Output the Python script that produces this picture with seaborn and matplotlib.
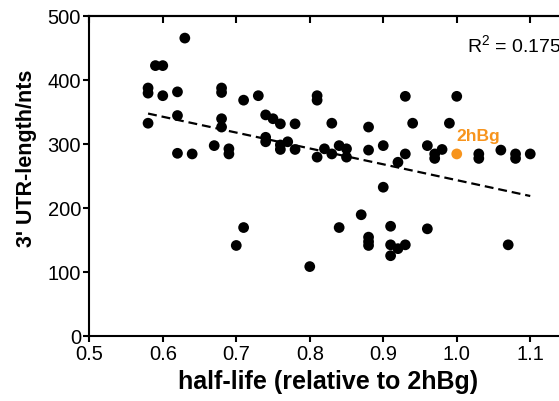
import numpy as np
import pandas as pd
import matplotlib
matplotlib.use("Agg")
import matplotlib.pyplot as plt
import seaborn as sns

# ---- data ----
half_life = [0.58, 0.58, 0.58, 0.59, 0.60, 0.60, 0.62, 0.62, 0.62, 0.63,
             0.64, 0.67, 0.68, 0.68, 0.68, 0.68, 0.69, 0.69, 0.71, 0.73,
             0.74, 0.75, 0.76, 0.74, 0.74, 0.76, 0.76, 0.77, 0.78, 0.78,
             0.81, 0.81, 0.81, 0.83, 0.82, 0.83, 0.84, 0.85, 0.85, 0.88,
             0.88, 0.90, 0.92, 0.93, 0.93, 0.94, 0.96, 0.97, 0.97, 0.98,
             0.99, 1.00, 1.03, 1.03, 1.06, 1.08, 1.08, 1.10, 0.71, 0.70,
             0.80, 0.90, 0.87, 0.84, 0.88, 0.88, 0.88, 0.91, 0.91, 0.92,
             0.93, 0.91, 0.96, 1.07]
utr_length = [387, 379, 332, 422, 422, 375, 381, 344, 285, 465,
              284, 297, 387, 380, 339, 326, 292, 284, 368, 375,
              345, 339, 331, 310, 303, 298, 291, 303, 331, 291,
              375, 368, 279, 332, 292, 284, 297, 292, 279, 326,
              290, 297, 271, 374, 284, 332, 297, 284, 277, 291,
              332, 374, 284, 277, 290, 284, 277, 284, 169, 141,
              108, 232, 189, 169, 154, 147, 141, 171, 142, 136,
              142, 125, 167, 142]
ref_name = "2hBg"
ref_half_life = [1.00]
ref_utr_length = [284]
r2_text = r"R$^2$ = 0.175"

x_ticks = [0.5, 0.6, 0.7, 0.8, 0.9, 1.0, 1.1]
x_tick_labels = ["0.5", "0.6", "0.7", "0.8", "0.9", "1.0", "1.1"]
y_ticks = [0, 100, 200, 300, 400, 500]

xlabel = "half-life (relative to 2hBg)"
ylabel = "3' UTR-length/nts"

# ---- style ----
sns.set_style("ticks")
plt.rcParams["font.family"] = ["Liberation Sans", "DejaVu Sans"]
plt.rcParams["mathtext.fontset"] = "custom"
plt.rcParams["mathtext.rm"] = "Liberation Sans"
plt.rcParams["mathtext.it"] = "Liberation Sans:italic"
plt.rcParams["mathtext.bf"] = "Liberation Sans:bold"
plt.rcParams["text.color"] = "black"
plt.rcParams["axes.labelcolor"] = "black"
plt.rcParams["xtick.color"] = "black"
plt.rcParams["ytick.color"] = "black"
plt.rcParams["axes.edgecolor"] = "black"

orange = "#F7941D"

all_df = pd.DataFrame({
    "x": half_life + ref_half_life,
    "y": utr_length + ref_utr_length,
})
pts = pd.DataFrame({"x": half_life, "y": utr_length})
ref = pd.DataFrame({"x": ref_half_life, "y": ref_utr_length})

fig = plt.figure(figsize=(5.59, 4.02), dpi=100)
ax = fig.add_axes([0.1597, 0.1624, 0.8546, 0.9585 - 0.1624])

sns.regplot(data=all_df, x="x", y="y", scatter=False, ci=None, truncate=True,
            ax=ax, line_kws=dict(color="black", lw=1.6, ls=(0, (4, 2.2))))
sns.scatterplot(data=pts, x="x", y="y", ax=ax, color="black", s=60,
                edgecolor="none", zorder=3)
sns.scatterplot(data=ref, x="x", y="y", ax=ax, color=orange, s=60,
                edgecolor="none", zorder=4)

ax.text(ref_half_life[0], ref_utr_length[0] + 22, ref_name, color=orange,
        fontsize=12.5, fontweight="bold", ha="left", va="baseline")
ax.text(1.0135, 445, r2_text, fontsize=14, color="black",
        ha="left", va="baseline")

ax.set_xlim(0.5, 1.15)
ax.set_ylim(0, 500)
ax.set_xticks(x_ticks)
ax.set_xticklabels(x_tick_labels)
ax.set_yticks(y_ticks)
ax.set_xlabel(xlabel, fontsize=18, fontweight="bold", color="black")
ax.set_ylabel(ylabel, fontsize=15.5, fontweight="bold", color="black")
ax.xaxis.set_label_coords(0.5, -0.105)
ax.yaxis.set_label_coords(-0.11, 0.558)

for side in ["left", "bottom", "top"]:
    ax.spines[side].set_linewidth(1.5)
    ax.spines[side].set_color("black")
ax.spines["right"].set_visible(False)
ax.tick_params(axis="both", direction="out", length=4.5, width=1.5,
               labelsize=14.5, colors="black", labelcolor="black")
ax.tick_params(axis="x", pad=1.5)
ax.tick_params(axis="y", pad=1.5)

top = ax.secondary_xaxis("top")
top.set_xticks(x_ticks)
top.tick_params(direction="in", length=5, width=1.5, labeltop=False,
                colors="black")
top.spines["top"].set_linewidth(1.5)
top.spines["top"].set_color("black")

fig.savefig("out.png", dpi=100)
